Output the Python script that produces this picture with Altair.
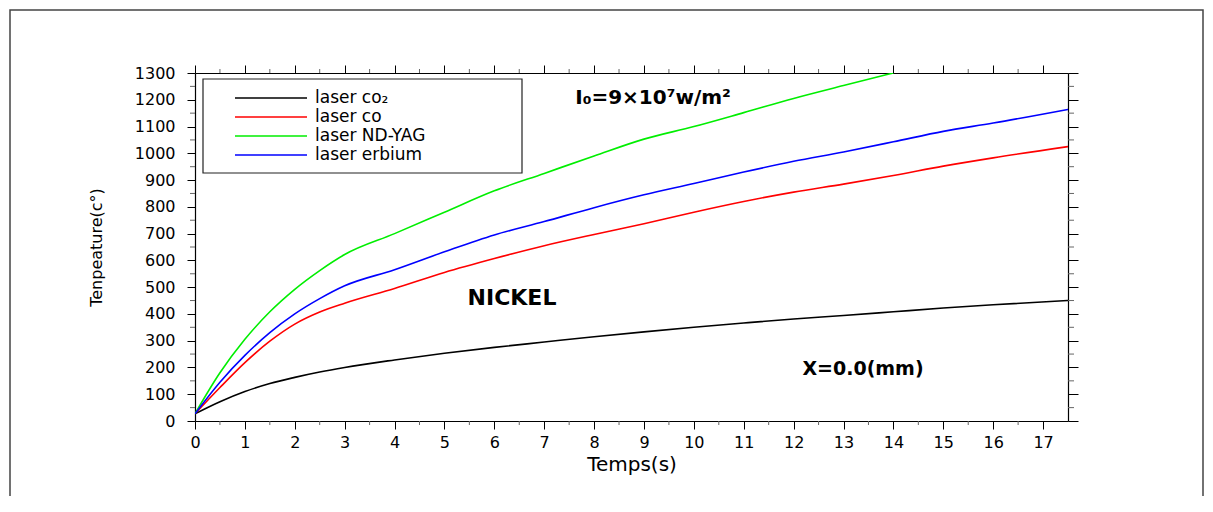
import altair as alt
import pandas as pd

# ---- data ----
t_all = [0, 0.5, 1, 1.5, 2, 2.5, 3, 4, 5, 6, 7, 8, 9, 10, 11, 12, 13, 14, 15, 16, 17.5]
co2 = [27, 72, 110, 140, 163, 183, 200, 228, 253, 275, 295, 315, 333, 350, 366, 381, 394, 408, 422, 434, 450]
co = [27, 125, 218, 298, 362, 407, 440, 495, 555, 607, 655, 697, 737, 780, 820, 855, 885, 917, 952, 983, 1025]
t_yag = [0, 0.5, 1, 1.5, 2, 2.5, 3, 4, 5, 6, 7, 8, 9, 10, 11, 12, 13, 14]
ndyag = [27, 180, 305, 408, 492, 562, 622, 700, 780, 860, 925, 990, 1053, 1100, 1152, 1205, 1253, 1300]
erbium = [27, 145, 245, 330, 400, 457, 505, 565, 632, 695, 745, 797, 845, 887, 930, 970, 1005, 1043, 1082, 1113, 1164]

series = ["laser co2", "laser co", "laser ND-YAG", "laser erbium"]
legend_labels = ["laser co\u2082", "laser co", "laser ND-YAG", "laser erbium"]
colors = ["#000000", "#ff0000", "#00ee00", "#0000ff"]

x_major = list(range(0, 18))
x_minor = [i + 0.5 for i in range(0, 17)]
y_major = list(range(0, 1301, 100))
y_minor = list(range(50, 1300, 100))

rows = []
for name, ts, vals in [(series[0], t_all, co2), (series[1], t_all, co),
                       (series[2], t_yag, ndyag), (series[3], t_all, erbium)]:
    for t, v in zip(ts, vals):
        rows.append({"t": t, "T": v, "series": name})
df = pd.DataFrame(rows)

W, H = 873, 348
xscale = alt.Scale(domain=[0, 17.5], nice=False, zero=False)
yscale = alt.Scale(domain=[0, 1300], nice=False, zero=False)

lines = alt.Chart(df).mark_line(strokeWidth=1.6, clip=True, interpolate="monotone").encode(
    x=alt.X("t:Q", scale=xscale,
            axis=alt.Axis(orient="bottom", values=x_major, title="Temps(s)", format="d",
                          tickSize=8, labelPadding=5, labelFlush=False,
                          labelOverlap=False, titleFontSize=20, titlePadding=4)),
    y=alt.Y("T:Q", scale=yscale,
            axis=alt.Axis(orient="left", values=y_major, title="Tenpeature(c\u00b0)", format="d",
                          tickSize=8, labelPadding=12, labelFlush=False,
                          labelOverlap=False, titleFontSize=16, titlePadding=30)),
    color=alt.Color("series:N", scale=alt.Scale(domain=series, range=colors), legend=None),
    order=alt.Order("t:Q"),
)

xm = pd.DataFrame({"t": x_minor})
ym = pd.DataFrame({"T": y_minor})

minor_bottom = alt.Chart(xm).mark_rule(color="#666", strokeWidth=1).encode(
    x=alt.X("t:Q", scale=xscale, axis=None), y=alt.value(H), y2=alt.value(H + 4))
minor_top = alt.Chart(xm).mark_rule(color="#666", strokeWidth=1).encode(
    x=alt.X("t:Q", scale=xscale,
            axis=alt.Axis(orient="top", values=x_major, labels=False, title=None, tickSize=8)),
    y=alt.value(0), y2=alt.value(-4))
minor_left = alt.Chart(ym).mark_rule(color="#666", strokeWidth=1).encode(
    y=alt.Y("T:Q", scale=yscale, axis=None), x=alt.value(0), x2=alt.value(-5))
minor_right = alt.Chart(ym).mark_rule(color="#666", strokeWidth=1).encode(
    y=alt.Y("T:Q", scale=yscale,
            axis=alt.Axis(orient="right", values=y_major, labels=False, title=None, tickSize=10)),
    x=alt.value(W), x2=alt.value(W + 6))

one = pd.DataFrame({"a": [0]})

# legend (decoration)
legend_box = alt.Chart(one).mark_rect(fillOpacity=0, stroke="#222", strokeWidth=1.2).encode(
    x=alt.value(8), x2=alt.value(327), y=alt.value(6), y2=alt.value(100))
legend_layers = [legend_box]
for i, (lab, col) in enumerate(zip(legend_labels, colors)):
    yy = 25 + 19 * i
    legend_layers.append(alt.Chart(one).mark_rule(color=col, strokeWidth=1.6).encode(
        x=alt.value(40), x2=alt.value(112), y=alt.value(yy)))
    legend_layers.append(alt.Chart(one).mark_text(
        align="left", baseline="middle", font="DejaVu Sans", fontSize=17, color="black").encode(
        x=alt.value(120), y=alt.value(yy), text=alt.value(lab)))

def note(txt, x, y, size):
    return alt.Chart(one).mark_text(
        align="center", baseline="middle", font="DejaVu Sans", fontWeight="bold",
        fontSize=size, color="black").encode(
        x=alt.value(x), y=alt.value(y), text=alt.value(txt))

notes = [
    note("I\u2080=9\u00d710\u2077w/m\u00b2", 458, 25, 20),
    note("NICKEL", 317, 225, 22),
    note("X=0.0(mm)", 668, 296, 19),
]

frame = alt.Chart(one).mark_rect(fillOpacity=0, stroke="#444", strokeWidth=1.5).encode(
    x=alt.value(-185), x2=alt.value(1008), y=alt.value(-63), y2=alt.value(460))

chart = alt.layer(
    frame, lines, minor_bottom, minor_top, minor_left, minor_right, *legend_layers, *notes
).properties(
    width=W, height=H,
    background="white",
    autosize=alt.AutoSizeParams(type="none"),
    padding={"left": 187, "top": 65, "right": 137, "bottom": 75},
).configure_view(stroke=None).configure_axis(
    grid=False, domainColor="black", domainWidth=1.2, tickColor="black", tickWidth=1,
    labelColor="black", titleColor="black", labelFont="DejaVu Sans", labelFontSize=16,
    titleFont="DejaVu Sans", titleFontWeight="normal",
)

chart.save("out.html", embed_options={"renderer": "svg", "actions": False})
